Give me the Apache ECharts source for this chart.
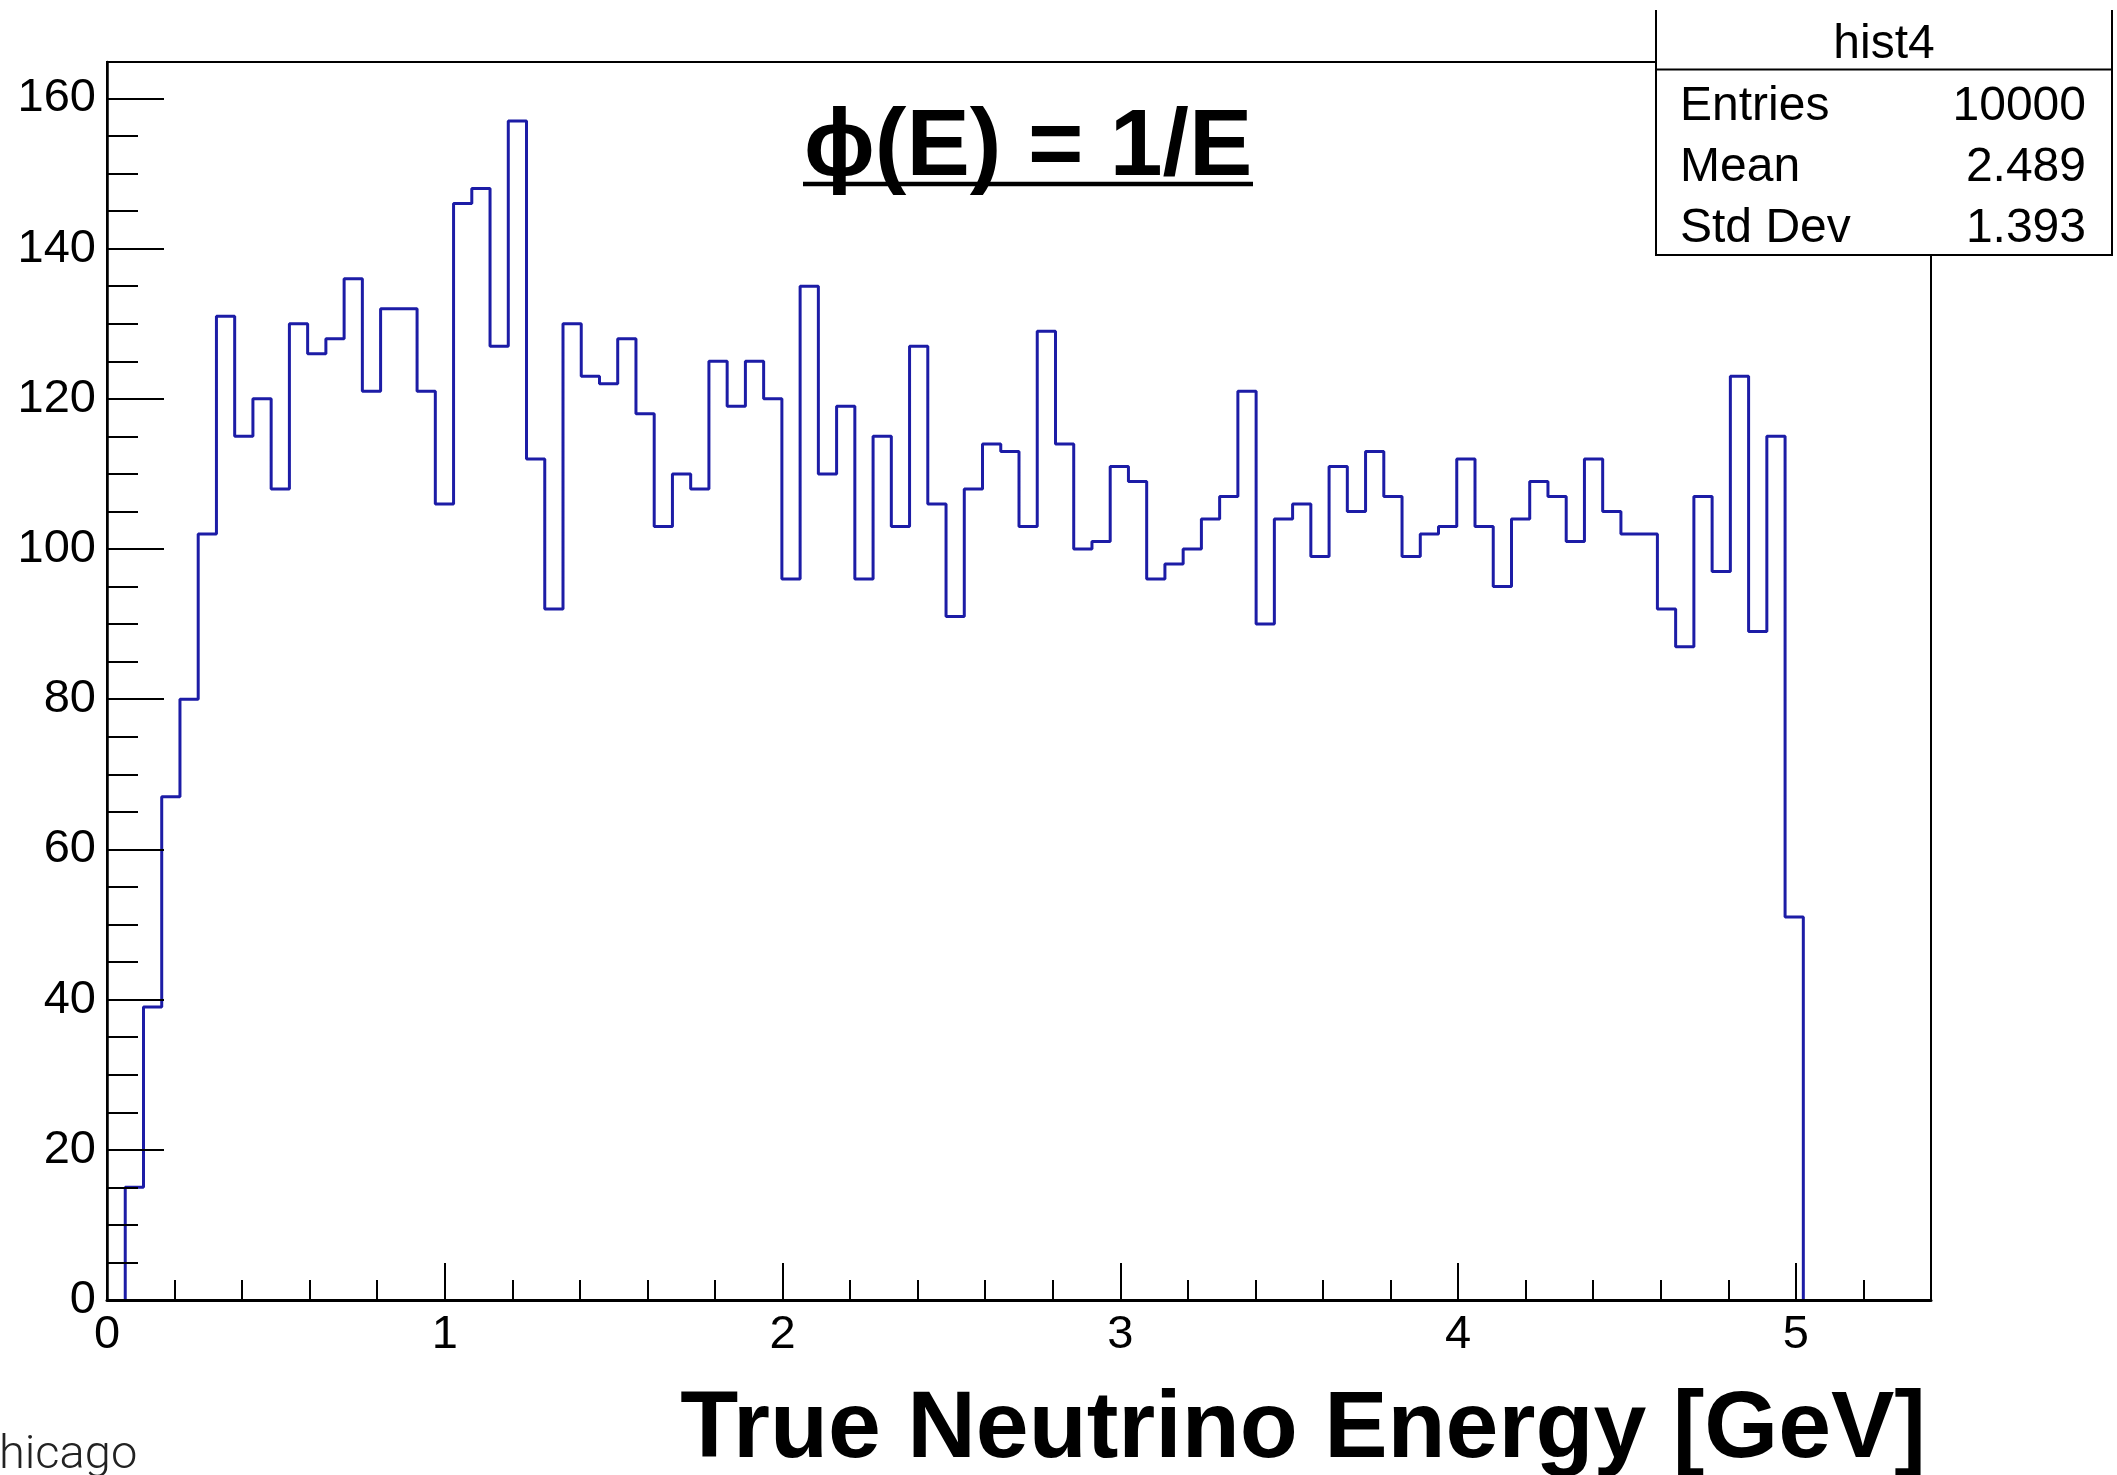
<!DOCTYPE html>
<html>
<head>
<meta charset="utf-8">
<title>hist4</title>
<script src="https://cdn.jsdelivr.net/npm/echarts@6/dist/echarts.min.js"></script>
<style>
html, body { margin: 0; padding: 0; background: #fff; }
#chart { width: 2117px; height: 1475px; }
</style>
</head>
<body>
<div id="chart"></div>
<script>
// hist4: 100 bins between 0 and 5.4 GeV
const xMin = 0;
const xMax = 5.4;
const counts = [
  0, 15, 39, 67, 80, 102, 131, 115, 120, 108,
  130, 126, 128, 136, 121, 132, 132, 121, 106, 146,
  148, 127, 157, 112, 92, 130, 123, 122, 128, 118,
  103, 110, 108, 125, 119, 125, 120, 96, 135, 110,
  119, 96, 115, 103, 127, 106, 91, 108, 114, 113,
  103, 129, 114, 100, 101, 111, 109, 96, 98, 100,
  104, 107, 121, 90, 104, 106, 99, 111, 105, 113,
  107, 99, 102, 103, 112, 103, 95, 104, 109, 107,
  101, 112, 105, 102, 102, 92, 87, 107, 97, 123,
  89, 115, 51, 0, 0, 0, 0, 0, 0, 0
];
const statNames = ['Entries', 'Mean', 'Std Dev'];
const statValues = ['10000', '2.489', '1.393'];
const histName = 'hist4';

const font = '"Liberation Sans", Arial, Helvetica, sans-serif';
const binWidth = (xMax - xMin) / counts.length;
const edge = i => xMin + i * binWidth;

// step outline over the filled bins only (empty ends lie on the axis)
let first = counts.findIndex(c => c > 0);
let last = counts.length - 1;
while (last > first && counts[last] === 0) last--;
let steps = [[edge(first), 0]];
for (let i = first; i <= last; i++) steps.push([edge(i), counts[i]]);
steps.push([edge(last + 1), 0]);

const yMax = Math.max(...counts) * 1.05; // root style headroom

let chart = echarts.init(document.getElementById('chart'));

let statTexts = [];
statNames.forEach((n, i) => {
    statTexts.push({
        type: 'text', z: 101, x: 1680, y: 107 + i * 61,
        style: { text: n, fontSize: 48, fontFamily: font, fill: '#000', align: 'left', verticalAlign: 'middle' }
    });
    statTexts.push({
        type: 'text', z: 101, x: 2086, y: 107 + i * 61,
        style: { text: statValues[i], fontSize: 48, fontFamily: font, fill: '#000', align: 'right', verticalAlign: 'middle' }
    });
});

let option = {
    backgroundColor: '#fff',
    animation: false,
    grid: {
        left: 107, top: 62, right: 186, bottom: 175,
        show: true, borderColor: '#000', borderWidth: 2,
        containLabel: false, outerBoundsMode: 'none'
    },
    xAxis: {
        type: 'value', min: xMin, max: xMax, interval: 1, z: 10,
        axisLine: { show: true, onZero: false, lineStyle: { color: '#000', width: 3 } },
        axisTick: { show: true, inside: true, length: 37, lineStyle: { color: '#000', width: 2 } },
        minorTick: { show: true, splitNumber: 5, length: 20, lineStyle: { color: '#000', width: 2 } },
        axisLabel: { color: '#000', fontSize: 47, fontFamily: font, margin: 12, showMaxLabel: false },
        splitLine: { show: false }
    },
    yAxis: {
        type: 'value', min: 0, max: yMax, interval: 20, z: 10,
        axisLine: { show: true, onZero: false, lineStyle: { color: '#000', width: 2.5 } },
        axisTick: { show: true, inside: true, length: 57, lineStyle: { color: '#000', width: 2 } },
        minorTick: { show: true, splitNumber: 4, length: 31, lineStyle: { color: '#000', width: 2 } },
        axisLabel: { color: '#000', fontSize: 47, fontFamily: font, margin: 11, showMaxLabel: false },
        splitLine: { show: false }
    },
    series: [{
        name: histName,
        type: 'line',
        step: 'end',
        data: steps,
        showSymbol: false,
        symbol: 'none',
        lineStyle: { color: '#1c1ca6', width: 3 },
        z: 2
    }],
    graphic: [
        // title, underlined
        {
            type: 'text', z: 50, x: 1028, y: 149,
            style: { text: 'ϕ(E) = 1/E', fontSize: 95, fontWeight: 'bold', fontFamily: font, fill: '#000', align: 'center', verticalAlign: 'middle' }
        },
        {
            type: 'line', z: 50,
            shape: { x1: 803, y1: 184, x2: 1253, y2: 184 },
            style: { stroke: '#000', lineWidth: 4.5 }
        },
        // axis title
        {
            type: 'text', z: 50, x: 1926, y: 1431,
            style: { text: 'True Neutrino Energy [GeV]', fontSize: 95, fontWeight: 'bold', fontFamily: font, fill: '#000', align: 'right', verticalAlign: 'middle' }
        },
        // slide footer, cut at the edge
        {
            type: 'text', z: 50, x: -1, y: 1456,
            style: { text: 'hicago', fontSize: 47, fontWeight: 300, fontFamily: 'Roboto, Lato, "Noto Sans", sans-serif', fill: '#222', align: 'left', verticalAlign: 'middle' }
        },
        // stats box
        {
            type: 'rect', z: 100,
            shape: { x: 1656, y: 0, width: 456, height: 255 },
            style: { fill: '#fff' }
        },
        {
            type: 'polyline', z: 101,
            shape: { points: [[1656, 10], [1656, 255], [2112, 255], [2112, 10]] },
            style: { stroke: '#000', lineWidth: 2, fill: null }
        },
        {
            type: 'line', z: 101,
            shape: { x1: 1656, y1: 69.5, x2: 2112, y2: 69.5 },
            style: { stroke: '#000', lineWidth: 2 }
        },
        {
            type: 'text', z: 101, x: 1884, y: 45,
            style: { text: histName, fontSize: 48, fontFamily: font, fill: '#000', align: 'center', verticalAlign: 'middle' }
        }
    ].concat(statTexts)
};
option && chart.setOption(option);
</script>
</body>
</html>
